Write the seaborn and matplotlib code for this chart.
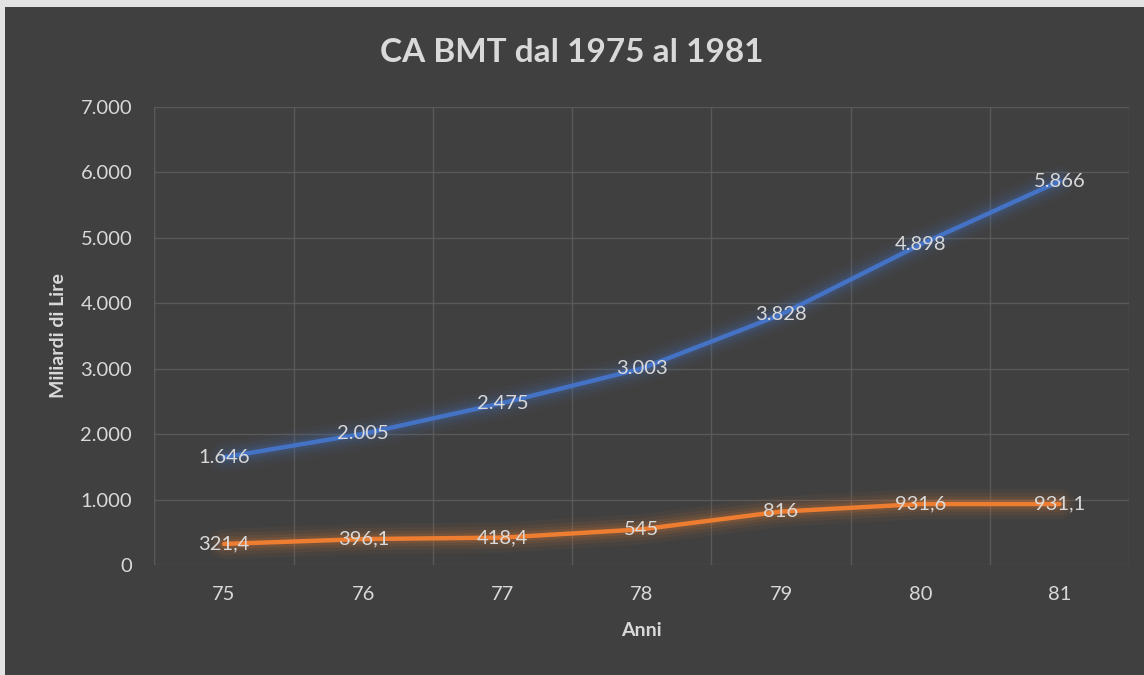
import matplotlib.pyplot as plt
from matplotlib.patches import Rectangle
from matplotlib.ticker import FuncFormatter, MultipleLocator
import seaborn as sns
import pandas as pd

anni = ["75", "76", "77", "78", "79", "80", "81"]
ca_blu = [1646, 2005, 2475, 3003, 3828, 4898, 5866]
ca_arancio = [321.4, 396.1, 418.4, 545, 816, 931.6, 931.1]
etichette_blu = ["1.646", "2.005", "2.475", "3.003", "3.828", "4.898", "5.866"]
etichette_arancio = ["321,4", "396,1", "418,4", "545", "816", "931,6", "931,1"]

BG = "#404040"
TXT = "#d9d9d9"
GRID = "#595959"
BLU = "#4472c4"
ARANCIO = "#ed7d31"

sns.set_style("dark")
plt.rcParams["font.family"] = ["Lato", "DejaVu Sans"]

df = pd.DataFrame({"anno": anni, "blu": ca_blu, "arancio": ca_arancio})
df["x"] = range(len(anni))

fig = plt.figure(figsize=(11.44, 6.75), dpi=100)
fig.patch.set_facecolor(BG)
# light strip on top and left edge (the screenshot frame)
fig.patches.append(Rectangle((0, 1 - 7 / 675), 1, 7 / 675, transform=fig.transFigure,
                             facecolor="#e3e3e3", edgecolor="none", zorder=5))
fig.patches.append(Rectangle((0, 0), 5 / 1144, 1, transform=fig.transFigure,
                             facecolor="#e3e3e3", edgecolor="none", zorder=5))

ax = fig.add_axes([0.135, 0.163, 0.852, 0.6785])
ax.set_facecolor(BG)

# glow under the lines
for col, c in [("blu", BLU), ("arancio", ARANCIO)]:
    for lw, a in [(22, 0.05), (16, 0.07), (11, 0.10), (7, 0.14)]:
        sns.lineplot(data=df, x="x", y=col, ax=ax, color=c, linewidth=lw,
                     alpha=a, solid_capstyle="round", legend=False)
    sns.lineplot(data=df, x="x", y=col, ax=ax, color=c, linewidth=3.2,
                 solid_capstyle="round", legend=False)

for xi, v, t in zip(df["x"], ca_blu, etichette_blu):
    ax.text(xi, v, t, ha="center", va="center", color=TXT, fontsize=14.5)
for xi, v, t in zip(df["x"], ca_arancio, etichette_arancio):
    ax.text(xi, v, t, ha="center", va="center", color=TXT, fontsize=14.5)

ax.set_xlim(-0.5, len(anni) - 0.5)
ax.set_ylim(0, 7000)
ax.set_xticks(df["x"])
ax.set_xticklabels(anni)
ax.xaxis.set_minor_locator(MultipleLocator(1, offset=0.5))
ax.yaxis.set_major_locator(MultipleLocator(1000))
ax.yaxis.set_major_formatter(FuncFormatter(lambda v, p: f"{int(v):,}".replace(",", ".")))
ax.grid(False)
ax.grid(which="minor", axis="x", color=GRID, linewidth=1)
ax.grid(which="major", axis="y", color=GRID, linewidth=1)
ax.axvline(-0.5, color=GRID, linewidth=1)
ax.set_axisbelow(True)
for s in ax.spines.values():
    s.set_visible(False)
ax.tick_params(axis="both", which="both", length=0, colors=TXT, labelsize=14.5)
ax.tick_params(axis="x", pad=15)
ax.tick_params(axis="y", pad=16)

ax.set_xlabel("Anni", color=TXT, fontsize=14, fontweight="bold", labelpad=14)
ax.set_ylabel("Miliardi di Lire", color=TXT, fontsize=14, fontweight="bold", labelpad=10)
fig.text(0.5, 0.922, "CA BMT dal 1975 al 1981", ha="center", va="center",
         color=TXT, fontsize=24, fontweight="bold")

fig.savefig("out.png", dpi=100, facecolor=fig.get_facecolor())
